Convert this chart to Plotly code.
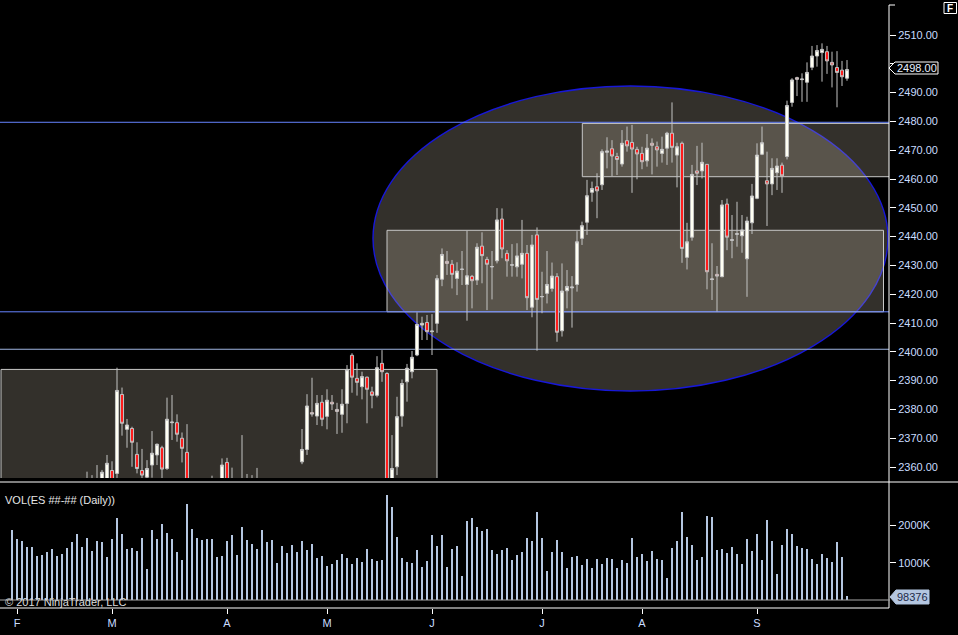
import plotly.graph_objects as go

W, H = 958, 635

# ---------------- data ----------------
bar_index = list(range(168))

open_ = [2271,2277,2275,2280,2283,2288,2286,2292,2304,2312,
         2318,2328,2336,2343,2346,2350,2352,2350,2352,2355,
         2358.8,2357.8,2385.2,2373.1,2373.4,2364.4,2358.8,2356.5,2360.7,2364.2,
         2366.7,2359.5,2375.4,2375.4,2370,2365.1,2341,2344,2341,2338,
         2352,2354,2350,2361.6,2352,2350,2348,2345,2352,2350,
         2348,2338,2330,2324,2340,2333,2342,2340,2361.8,2366.1,
         2378.9,2377.7,2382.5,2377.6,2382.5,2380,2378.3,2382.1,2398.8,2390.8,
         2387.9,2391.2,2386.1,2384.9,2396,2392.5,2350,2360.1,2377.7,2389.6,
         2393.1,2398.9,2409.3,2410.2,2407,2409.9,2425.2,2431.4,2430.4,2425.5,
         2428.6,2423.4,2426.2,2424.9,2436.7,2432.1,2429.5,2431.6,2446.1,2434.2,
         2430.1,2429.5,2430.4,2434.2,2415.5,2440.6,2419.1,2420.3,2422,2426.1,
         2407.3,2421.2,2422.2,2423.4,2439.4,2445,2455.4,2457.3,2458,2469.3,
         2470.5,2467.8,2465.2,2473.3,2472.7,2470.3,2468.9,2466.3,2472.4,2471.2,
         2468.9,2470.7,2475.9,2468.3,2472.4,2432.8,2439.8,2462.8,2462.8,2465.1,
         2425.1,2426.9,2426.1,2451.3,2438.7,2440.8,2440.3,2432.3,2444.8,2453.3,
         2468.6,2459.4,2458.3,2462.2,2464.8,2467.8,2486.6,2495.2,2494.5,2493.6,
         2498.8,2502.7,2503.9,2504.2,2500.5,2498.7,2497.8,2495]

high = [2282,2285,2283,2288,2292,2295,2296,2306,2314,2320,
        2330,2338,2345,2349,2354,2358.4,2357.2,2360.7,2359,2364.2,
        2362,2394.5,2387.6,2376.7,2374,2368.6,2366.3,2362.4,2372.5,2368.2,
        2367.4,2384.1,2385,2378.3,2372,2374.9,2350,2352,2345,2354,
        2357,2355,2363,2363.2,2359.8,2354,2371.1,2357.6,2357.2,2359.7,
        2352,2342,2334,2342,2344,2345,2350,2352,2373.2,2385.3,
        2391,2385,2385,2387,2385,2382.3,2387,2395.4,2399.5,2396,
        2393.1,2391.4,2387.9,2398.5,2400.6,2392.9,2371.1,2384.4,2390.4,2395.8,
        2400.3,2413.7,2412.2,2412.8,2413.1,2426.7,2435.9,2435,2431.9,2431.1,
        2435,2442.1,2426.7,2437.7,2441.5,2433,2435,2449.9,2449.8,2435.3,
        2437.4,2437.7,2445.8,2437.1,2440.6,2443.2,2427.8,2435,2431,2427.3,
        2430.7,2428.4,2426.3,2441.9,2445.2,2459.7,2459.1,2462,2470.3,2474.5,
        2473.5,2469.1,2477,2478.2,2478.8,2471.2,2471.2,2475.6,2474.1,2473,
        2474.7,2476.4,2486.6,2472.6,2473,2444.8,2464.9,2471.5,2472.6,2465.2,
        2437.7,2429.8,2452.7,2453.2,2447.5,2452.1,2447.5,2446.9,2458.3,2472.4,
        2478.2,2469.5,2467.2,2467.2,2465.7,2487.2,2495,2495.5,2496.7,2500.5,
        2506.2,2506.5,2507.1,2506.2,2504.2,2504.4,2501,2501.3]

low = [2263,2268,2270,2274,2277,2281,2283,2290,2301,2308,
       2316,2325,2332,2338,2341,2343,2345,2346,2347,2350,
       2350,2355,2370.9,2366.7,2360.1,2357.8,2352,2350,2356.3,2360.7,
       2354,2359,2369.4,2368.8,2361.6,2338,2335,2338,2320,2336,
       2346,2345,2347,2348,2345,2342,2338,2340,2335,2343,
       2335,2326,2320,2322,2330,2330,2336,2338,2361,2364.2,
       2377.5,2374.6,2374.2,2373.1,2379.8,2371.5,2371.9,2375.2,2385.8,2384.8,
       2383.5,2375.2,2380.4,2384.2,2389.6,2348,2346,2357.2,2374,2382.7,
       2390.8,2398.5,2404.1,2404.1,2398.9,2406.6,2422.8,2426.7,2422,2419.7,
       2423.2,2410.8,2415.1,2423.2,2423.8,2414.5,2418.2,2430.7,2432.5,2426.1,
       2426.1,2426.1,2425.5,2414.5,2412,2400.4,2413.4,2416.8,2420.9,2403.5,
       2405.3,2415.1,2408.4,2420.9,2437.1,2440.6,2452.1,2446.4,2456.2,2463.7,
       2461,2461.4,2464.3,2469.5,2455.2,2459.9,2463.4,2464.3,2461.6,2464.3,
       2465.7,2464.9,2465.7,2457.1,2430.9,2428.6,2438.6,2457.9,2460.2,2421.7,
       2418,2414,2425.9,2435.3,2432.5,2436.5,2434.4,2419.1,2440.9,2453,
       2468.3,2443.7,2454.4,2456.2,2455.2,2466.8,2485.1,2488.8,2486.8,2486.8,
       2497.8,2499,2493.8,2496.5,2491.8,2484.9,2492.3,2494.1]

close = [2277,2275,2280,2283,2288,2286,2292,2304,2312,2318,
         2328,2336,2343,2346,2350,2352,2350,2355,2358.2,2361.3,
         2354,2386.6,2375.2,2374.6,2368.6,2359.5,2357.2,2359.5,2364.8,2367.9,
         2359.3,2376.6,2375.6,2371.4,2366.5,2341,2344,2341,2338,2352,
         2354,2350,2360.7,2352,2350,2348,2345,2352,2350,2348,
         2338,2330,2324,2340,2333,2342,2340,2350,2366.1,2381.2,
         2378.4,2382.1,2376.6,2383.2,2381.9,2379.3,2381.8,2393.8,2391.2,2389.4,
         2391.4,2387,2384.9,2394.5,2393.1,2352,2359.5,2377.5,2389,2394.3,
         2398.1,2409.5,2409.9,2407,2407.2,2425.4,2433.8,2430.7,2426.9,2428,
         2428.7,2426.4,2424.7,2436.3,2433.4,2430.4,2429.6,2445.8,2435.7,2431.6,
         2430.2,2433.3,2434.2,2418.8,2437.1,2418.2,2419.2,2423.4,2426.3,2406.8,
         2421.1,2422.7,2422.5,2438.2,2443.8,2454.2,2456.7,2455.9,2469.5,2469.7,
         2468,2466.8,2472.4,2471.5,2470.4,2468.7,2466,2470.7,2471.7,2470.1,
         2470.3,2475.9,2471,2471.2,2435.9,2438.2,2461.6,2462,2465.8,2427.8,
         2425.3,2426.3,2451,2439.8,2438.9,2441,2442.3,2445.4,2454.1,2468.3,
         2472.6,2458.3,2463.7,2464.5,2461.1,2485.5,2494.4,2494.6,2494.7,2497,
         2502.7,2504.6,2505,2501,2499.6,2497,2495.5,2498]

volume_k = [1867,1627,1573,1413,1413,1173,1200,1280,1360,1173,
            1227,1387,1547,1760,1413,1653,1307,1573,1547,1147,
            1627,2187,1760,1360,1387,1307,1653,827,1867,1627,
            2027,1787,1627,1280,1067,2587,1893,1653,1600,1627,
            1627,1147,1173,1573,1733,1200,1947,1600,1493,1360,
            1867,1547,1600,987,1440,1253,1467,1280,1573,1333,
            1493,1120,1173,907,960,1067,1227,1120,960,1120,
            1013,1360,1093,1040,1067,2827,2480,1680,1120,1013,
            987,1333,880,1040,1733,1440,1733,880,1360,1440,
            640,2107,2187,1947,1840,1893,1333,1227,1333,1387,
            1067,1200,1280,1653,1573,2347,1653,773,1280,1600,
            1280,853,1147,1173,933,1093,853,1093,960,1120,
            1093,853,1067,987,1653,1147,1227,1040,1307,1093,
            1067,587,1387,1573,2347,1680,1467,1067,1147,2240,
            2213,1333,1360,1253,1413,1227,960,1627,1307,1760,
            1067,2133,1573,693,1467,1893,1760,1440,1387,1360,
            1093,960,1227,1120,1013,1547,1147,98.376]

month_tick_bars = [1, 20, 43, 63, 84, 106, 126, 149]
month_labels = ["F", "M", "A", "M", "J", "J", "A", "S"]
price_ticks = list(range(2360, 2511, 10))
volume_ticks = [1000, 2000]
volume_tick_labels = ["1000K", "2000K"]
last_price = 2498.00
last_volume = 98376

# ---------------- helpers ----------------
def fx(x):
    return x / W

def fy(y):
    return 1 - y / H

def ppath(points):
    return "M " + " L ".join(f"{fx(x):.5f},{fy(y):.5f}" for x, y in points) + " Z"

AXC = "#c8dcff"
FONT = "Arial, Liberation Sans, sans-serif"

fig = go.Figure()

fig.add_trace(go.Candlestick(
    x=bar_index, open=open_, high=high, low=low, close=close,
    increasing=dict(line=dict(color="#c4c4c4", width=1), fillcolor="#fffff2"),
    decreasing=dict(line=dict(color="#c4c4c4", width=1), fillcolor="#ff1c1c"),
    whiskerwidth=0, xaxis="x", yaxis="y", hoverinfo="skip", showlegend=False,
))

fig.add_trace(go.Bar(
    x=bar_index, y=volume_k, width=0.42,
    marker=dict(color="#b4c6e0", line=dict(width=0)),
    xaxis="x", yaxis="y2", hoverinfo="skip", showlegend=False,
))

shapes = []
fill = "rgba(215,200,180,0.24)"
# drawing objects on the price panel (below the candles)
shapes.append(dict(type="circle", xref="x", yref="y", x0=72.2, x1=175.2,
                   y0=2386.4, y1=2492.3, fillcolor=fill,
                   line=dict(color="#1818d8", width=1.4), layer="below"))
shapes.append(dict(type="rect", xref="x", yref="y", x0=-2.2, x1=85,
                   y0=2330, y1=2393.9, fillcolor=fill,
                   line=dict(color="#c8c8c8", width=1), layer="below"))
shapes.append(dict(type="rect", xref="x", yref="y", x0=75, x1=174.3,
                   y0=2413.9, y1=2442.2, fillcolor=fill,
                   line=dict(color="#c8c8c8", width=1), layer="below"))
shapes.append(dict(type="rect", xref="x", yref="y", x0=114.06, x1=185,
                   y0=2460.8, y1=2479.3, fillcolor=fill,
                   line=dict(color="#c8c8c8", width=1), layer="below"))
for lvl, col in [(2479.7, "#6684ff"), (2413.9, "#6684ff"), (2400.9, "#9fb4e0")]:
    shapes.append(dict(type="line", xref="x", yref="y", x0=-5, x1=185,
                       y0=lvl, y1=lvl, line=dict(color=col, width=1), layer="below"))

# chrome lines
def pline(x0, y0, x1, y1, color="#ffffff", width=1):
    return dict(type="line", xref="paper", yref="paper", x0=fx(x0), y0=fy(y0),
                x1=fx(x1), y1=fy(y1), line=dict(color=color, width=width), layer="above")

shapes.append(pline(889, 5, 889, 608))
shapes.append(pline(889, 5, 895, 5))
shapes.append(pline(0, 482, 958, 482))
shapes.append(pline(0, 608, 889, 608))
shapes.append(pline(0, 600, 890, 600, color="#a8a8a8"))

# last-price marker
shapes.append(dict(type="path", xref="paper", yref="paper",
                   path=ppath([(889, 68), (895, 62), (938, 62), (938, 74), (895, 74)]),
                   fillcolor="#000000", line=dict(color="#ffffff", width=1), layer="above"))
# last-volume marker
shapes.append(dict(type="path", xref="paper", yref="paper",
                   path=ppath([(890, 597), (896, 590), (929, 590), (929, 604), (896, 604)]),
                   fillcolor="#b4c6e0", line=dict(color="#b4c6e0", width=1), layer="above"))
# "F" box
shapes.append(dict(type="rect", xref="paper", yref="paper", x0=fx(944), x1=fx(956.5),
                   y0=fy(13.5), y1=fy(2.5), fillcolor="#000000",
                   line=dict(color="#ffffff", width=1), layer="above"))

annotations = [
    dict(text="VOL(ES ##-## (Daily))", x=fx(3), y=fy(500), xref="paper", yref="paper",
         xanchor="left", yanchor="middle", showarrow=False,
         font=dict(family=FONT, size=11, color="#e6e6e6")),
    dict(text="© 2017 NinjaTrader, LLC", x=fx(3), y=fy(602), xref="paper", yref="paper",
         xanchor="left", yanchor="middle", showarrow=False,
         font=dict(family=FONT, size=11, color="#dcdcdc")),
    dict(text=f"{last_price:.2f}", x=fx(916.5), y=fy(68), xref="paper", yref="paper",
         xanchor="center", yanchor="middle", showarrow=False,
         font=dict(family=FONT, size=11, color="#e8f0ff")),
    dict(text=str(last_volume), x=fx(912), y=fy(597), xref="paper", yref="paper",
         xanchor="center", yanchor="middle", showarrow=False,
         font=dict(family=FONT, size=11, color="#1c2a48")),
    dict(text="<b>F</b>", x=fx(950.3), y=fy(8), xref="paper", yref="paper",
         xanchor="center", yanchor="middle", showarrow=False,
         font=dict(family=FONT, size=10, color="#ffffff")),
]

# the 2500 label sits under the last-price marker, as in the original
price_tick_text = ["" if abs(v - last_price) < 5 else f"{v:.2f}" for v in price_ticks]

fig.update_layout(
    width=W, height=H, margin=dict(l=0, r=0, t=0, b=0),
    paper_bgcolor="#000000", plot_bgcolor="#000000",
    showlegend=False, boxgap=0.12, bargap=0,
    shapes=shapes, annotations=annotations,
    font=dict(family=FONT, size=11, color=AXC),
    xaxis=dict(domain=[0, fx(889)], range=[-2.4, 175.4], anchor="free",
               position=fy(608), tickvals=month_tick_bars, ticktext=month_labels,
               ticks="outside", ticklen=5, tickcolor="#ffffff", tickwidth=1,
               showgrid=False, zeroline=False, showline=False,
               rangeslider=dict(visible=False),
               tickfont=dict(family=FONT, size=11, color=AXC)),
    yaxis=dict(domain=[fy(478), 1], range=[2356.2, 2522.15], side="right", anchor="x",
               tickvals=price_ticks, ticktext=price_tick_text,
               ticks="outside", ticklen=6, tickcolor="#ffffff", tickwidth=1,
               showgrid=False, zeroline=False, showline=False,
               tickfont=dict(family=FONT, size=11, color=AXC)),
    yaxis2=dict(domain=[fy(600), fy(486)], range=[0, 3056], side="right", anchor="x",
                tickvals=volume_ticks, ticktext=volume_tick_labels,
                ticks="outside", ticklen=6, tickcolor="#ffffff", tickwidth=1,
                showgrid=False, zeroline=False, showline=False,
                tickfont=dict(family=FONT, size=11, color=AXC)),
)

fig.write_html("out.html", config={"displayModeBar": False},
               post_script="document.body.style.margin='0';document.body.style.overflow='hidden';")
